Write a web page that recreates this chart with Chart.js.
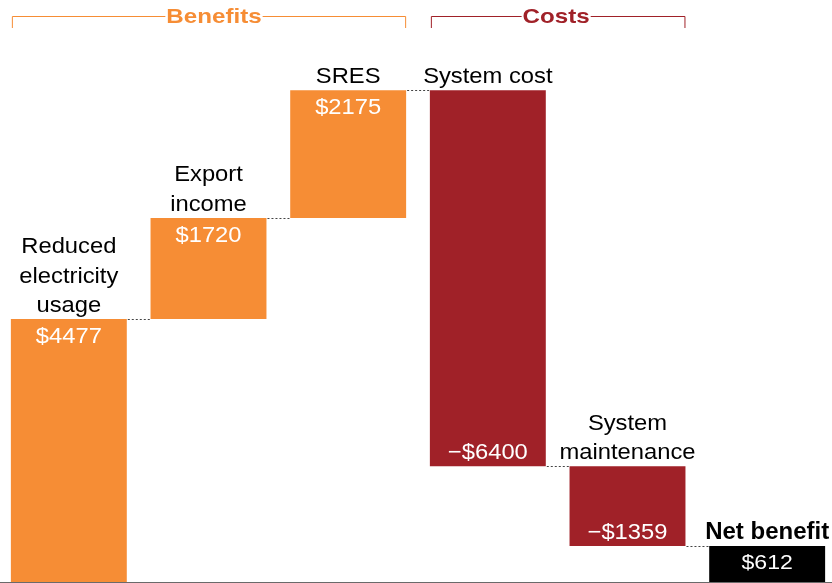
<!DOCTYPE html>
<html>
<head>
<meta charset="utf-8">
<script src="https://cdn.jsdelivr.net/npm/chart.js@4.4.1/dist/chart.umd.min.js"></script>
<style>
  html, body { margin: 0; padding: 0; background: #fff; overflow: hidden; width: 832px; height: 583px; }
  #c { position: absolute; left: -1px; top: 0; }
</style>
</head>
<body>
<canvas id="c" width="838" height="583"></canvas>
<script>
// ---- data ----
const categories = ['Reduced\nelectricity\nusage', 'Export\nincome', 'SRES', 'System cost', 'System\nmaintenance', 'Net benefit'];
const values = [4477, 1720, 2175, -6400, -1359, 612];
const kinds = ['benefit', 'benefit', 'benefit', 'cost', 'cost', 'total'];
const valueLabels = ['$4477', '$1720', '$2175', '\u2212$6400', '\u2212$1359', '$612'];
const groupTitles = ['Benefits', 'Costs'];
const groupKinds = ['benefit', 'cost'];

// ---- styles ----
const COLORS = { benefit: '#F68D35', cost: '#A02128', total: '#000000' };
const FONT = '"Liberation Sans", Arial, sans-serif';

// floating ranges
const ranges = [];
const cumEnd = [];
let run = 0;
values.forEach((v, i) => {
  if (kinds[i] === 'total') { ranges.push([0, v]); cumEnd.push(v); }
  else { ranges.push([run, run + v]); run += v; cumEnd.push(run); }
});

function drawText(ctx, text, x, y, font, sx) {
  ctx.save();
  ctx.font = font;
  ctx.translate(x, y);
  ctx.scale(sx, 1);
  ctx.fillText(text, 0, 0);
  ctx.restore();
}

const overlay = {
  id: 'overlay',
  afterDatasetsDraw(chart) {
    const ctx = chart.ctx;
    const meta = chart.getDatasetMeta(0);
    const ys = chart.scales.y;
    const bars = meta.data.map(el => {
      const p = el.getProps(['x', 'y', 'base', 'width'], true);
      return { left: p.x - p.width / 2, right: p.x + p.width / 2, x: p.x,
               top: Math.min(p.y, p.base), bottom: Math.max(p.y, p.base) };
    });
    ctx.save();
    // connectors
    ctx.strokeStyle = '#444';
    ctx.lineWidth = 1;
    ctx.setLineDash([2, 2]);
    for (let i = 0; i < bars.length - 1; i++) {
      const y = Math.round(ys.getPixelForValue(cumEnd[i])) + 0.5;
      ctx.beginPath();
      ctx.moveTo(bars[i].right + 1, y);
      ctx.lineTo(bars[i + 1].left, y);
      ctx.stroke();
    }
    ctx.setLineDash([]);
    // category labels
    ctx.textAlign = 'center';
    ctx.textBaseline = 'alphabetic';
    const REG = '22px ' + FONT;
    bars.forEach((b, i) => {
      const lines = categories[i].split('\n');
      ctx.fillStyle = '#000';
      lines.forEach((ln, j) => {
        const y = b.top - 7 - (lines.length - 1 - j) * 29.5;
        if (kinds[i] === 'total') drawText(ctx, ln, b.x, y, 'bold 24px ' + FONT, 1);
        else drawText(ctx, ln, b.x, y, REG, 1.08);
      });
      // value labels
      ctx.fillStyle = '#fff';
      if (kinds[i] === 'benefit') drawText(ctx, valueLabels[i], b.x, b.top + 24, REG, 1.08);
      else if (kinds[i] === 'cost') drawText(ctx, valueLabels[i], b.x, b.bottom - 7, REG, 1.08);
      else drawText(ctx, valueLabels[i], b.x, b.top + 23, '21px ' + FONT, 1.1);
    });
    // group brackets
    const HDR = 'bold 21px ' + FONT;
    const HSX = 1.15;
    groupKinds.forEach((k, g) => {
      const idx = kinds.map((kk, i) => kk === k ? i : -1).filter(i => i >= 0);
      const l = bars[idx[0]].left + 1.5;
      const r = bars[idx[idx.length - 1]].right - 0.5;
      const y = 16.5;
      const cx = (l + r) / 2 + (g === 0 ? 5 : -2);
      ctx.font = HDR;
      const tw = ctx.measureText(groupTitles[g]).width * HSX;
      ctx.strokeStyle = COLORS[k];
      ctx.lineWidth = 1;
      ctx.beginPath();
      ctx.moveTo(l, 28); ctx.lineTo(l, y); ctx.lineTo(cx - tw / 2 - 1, y);
      ctx.moveTo(cx + tw / 2 + 1, y); ctx.lineTo(r, y); ctx.lineTo(r, 28);
      ctx.stroke();
      ctx.fillStyle = COLORS[k];
      drawText(ctx, groupTitles[g], cx, 23, HDR, HSX);
    });
    // baseline
    const by = Math.round(ys.getPixelForValue(0)) + 0.5;
    ctx.strokeStyle = 'rgba(90,90,90,0.9)';
    ctx.lineWidth = 1;
    ctx.beginPath();
    ctx.moveTo(0, by); ctx.lineTo(chart.width, by);
    ctx.stroke();
    ctx.restore();
  }
};

new Chart(document.getElementById('c'), {
  type: 'bar',
  data: {
    labels: categories,
    datasets: [{
      data: ranges,
      backgroundColor: kinds.map(k => COLORS[k]),
      borderWidth: 0,
      categoryPercentage: 1,
      barPercentage: 0.83
    }]
  },
  options: {
    responsive: false,
    animation: false,
    layout: { padding: { top: 0, bottom: 1, left: 0, right: 0 } },
    plugins: { legend: { display: false }, tooltip: { enabled: false } },
    scales: {
      x: { display: false, offset: true },
      y: { display: false, min: 0, max: 9908 }
    }
  },
  plugins: [overlay]
});
</script>
</body>
</html>
